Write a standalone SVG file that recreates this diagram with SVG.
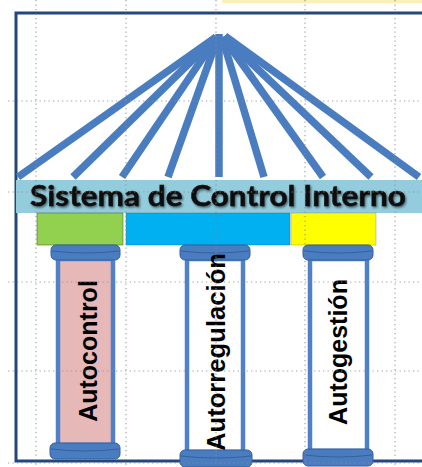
<svg xmlns="http://www.w3.org/2000/svg" width="422" height="467" viewBox="0 0 422 467">
<style>
.fan{stroke:#4A7CC0;stroke-width:7.5;fill:none;stroke-linecap:butt}
.grid{stroke:#8C8C8C;stroke-width:1.2;stroke-dasharray:1.3 3.2;fill:none;opacity:0.8}
.cap{fill:#4A7CC0;stroke:#34609E;stroke-width:1}
.capband{fill:none;stroke:#2F5A96;stroke-width:1;opacity:0.8}
.shaft{stroke:#4F81C9;stroke-width:4.5}
.ptext{font-family:"Liberation Sans",Arial,sans-serif;font-weight:bold;font-size:25px;fill:#000;text-anchor:middle}
.title{font-family:Lato,"Liberation Sans",sans-serif;font-weight:bold;font-size:28px;fill:#111;stroke:#111;stroke-width:0.5;text-anchor:middle}
</style>
<defs>
<filter id="shadow" x="-5%" y="-30%" width="110%" height="160%">
<feDropShadow dx="1.2" dy="1.5" stdDeviation="1" flood-color="#000" flood-opacity="0.55"/>
</filter>
</defs>
<rect x="0" y="0" width="422" height="467" fill="#FFFFFF"/>
<rect x="222" y="0" width="200" height="3" fill="#FBF0B8"/>
<g id="frame">
<path d="M422,13 H16 V461 H422" fill="none" stroke="#23467F" stroke-width="3"/>
</g>
<g id="connectors">
<line class="fan" x1="216" y1="37" x2="18" y2="177"/>
<line class="fan" x1="216" y1="37" x2="73" y2="177"/>
<line class="fan" x1="217" y1="37" x2="122" y2="177"/>
<line class="fan" x1="218" y1="37" x2="168" y2="177"/>
<line class="fan" x1="219" y1="34" x2="219" y2="177"/>
<line class="fan" x1="222" y1="37" x2="264" y2="177"/>
<line class="fan" x1="223" y1="37" x2="323" y2="177"/>
<line class="fan" x1="224" y1="37" x2="371" y2="177"/>
<line class="fan" x1="225" y1="36" x2="419" y2="177"/>
</g>
<g id="banner">
<rect x="16" y="180" width="406" height="33" fill="#93CDDD"/>
<text class="title" x="218" y="206" textLength="376" lengthAdjust="spacingAndGlyphs" filter="url(#shadow)">Sistema de Control Interno</text>
</g>
<g id="block-green"><rect x="37" y="213" width="86" height="32" fill="#92D050" stroke="#4E6B2A" stroke-width="0.6"/></g>
<g id="block-blue"><rect x="126" y="213" width="164" height="32" fill="#00B0F0" stroke="#1C6E9A" stroke-width="0.4"/></g>
<g id="block-yellow"><rect x="291" y="213" width="85" height="32" fill="#FFFF00" stroke="#8A8A2A" stroke-width="0.4"/></g>
<g id="pillar-autocontrol">
<rect x="58" y="259" width="55" height="186" fill="#E6B9B8" class="shaft"/>
<rect x="51" y="245" width="69" height="15" rx="5" class="cap"/>
<path class="capband" d="M52,251 Q85.5,255 119,251"/>
<rect x="50" y="443" width="70" height="16" rx="5" class="cap"/>
<path class="capband" d="M51,449 Q85,453 119,449"/>
<text class="ptext" transform="translate(97,351) rotate(-90)">Autocontrol</text>
</g>
<g id="pillar-autorregulacion">
<rect x="187" y="259" width="56" height="193" fill="#FFFFFF" class="shaft"/>
<rect x="180" y="245" width="70" height="15" rx="5" class="cap"/>
<path class="capband" d="M181,251 Q215,255 249,251"/>
<text class="ptext" transform="translate(225,352) rotate(-90)" textLength="198" lengthAdjust="spacingAndGlyphs">Autorregulación</text>
<rect x="180" y="450" width="72" height="17" rx="5" class="cap"/>
<path class="capband" d="M181,456 Q216,460 251,456"/>
</g>
<g id="pillar-autogestion">
<rect x="310" y="259" width="57" height="192" fill="#FFFFFF" class="shaft"/>
<rect x="303" y="245" width="70" height="15" rx="5" class="cap"/>
<path class="capband" d="M304,251 Q338,255 372,251"/>
<rect x="303" y="449" width="70" height="17" rx="5" class="cap"/>
<path class="capband" d="M304,455 Q338,459 372,455"/>
<text class="ptext" transform="translate(347,352) rotate(-90)">Autogestión</text>
</g>
<g id="grid">
<line class="grid" x1="36" y1="0" x2="36" y2="467"/>
<line class="grid" x1="126" y1="0" x2="126" y2="467"/>
<line class="grid" x1="216" y1="0" x2="216" y2="467"/>
<line class="grid" x1="305" y1="0" x2="305" y2="467"/>
<line class="grid" x1="395" y1="0" x2="395" y2="467"/>
<line class="grid" x1="8" y1="101" x2="422" y2="101"/>
<line class="grid" x1="8" y1="192" x2="422" y2="192"/>
<line class="grid" x1="8" y1="282" x2="422" y2="282"/>
<line class="grid" x1="8" y1="371" x2="422" y2="371"/>
<line class="grid" x1="8" y1="463" x2="422" y2="463"/>
</g>
</svg>
